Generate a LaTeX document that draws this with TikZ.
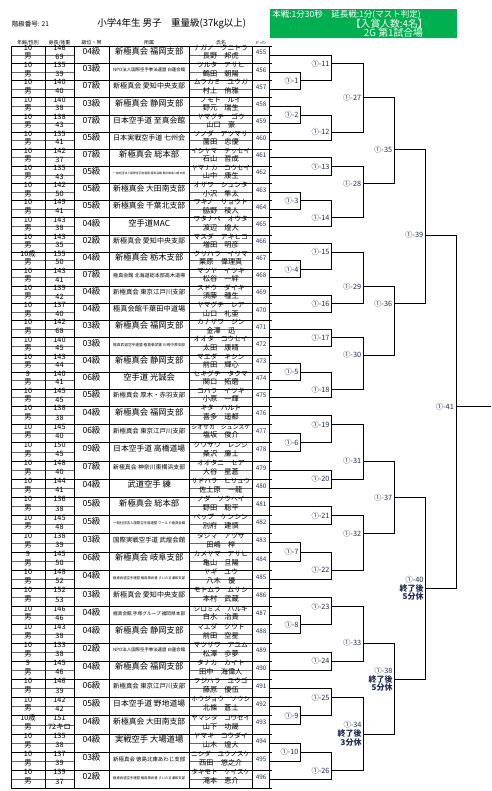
\documentclass[tikz,border=0pt]{standalone}
\usepackage{fontspec}
\setmainfont{Noto Sans CJK JP}
\definecolor{hdrgreen}{HTML}{00B050}
\definecolor{inkblue}{HTML}{1E2A50}
\newcommand\fs[1]{\fontsize{#1}{#1}\selectfont}
\newsavebox\fitsave
% #1 max width (pt), #2 base size, #3 text
\newcommand\fitto[3]{\sbox\fitsave{\fs{#2}#3}%
  \ifdim\wd\fitsave>#1pt\relax
    \pgfmathsetmacro\fitsz{#2*#1/\the\wd\fitsave}\fs{\fitsz}#3%
  \else\usebox\fitsave\fi}

\begin{document}
\begin{tikzpicture}[x=1pt,y=-1pt]
\tikzset{
  rule/.style={line width=0.9pt},
  subrule/.style={line width=0.7pt, black!60},
  txt/.style={inner sep=0pt, outer sep=0pt},
  mlabel/.style={inner sep=0pt, anchor=east, text=inkblue, font=\fs{7.3}},
}
\useasboundingbox (0,0) rectangle (491,791);

% header
\node[txt, anchor=west, font=\fs{6.5}] (lvlno) at (12,24) {階級番号: 21};
\node[txt, font=\fs{9.5}] (title) at (171.7,24) {小学4年生 男子　重量級(37kg以上)};
\fill[hdrgreen] (270,9) rectangle (457,37.7);
\node[txt, anchor=west, text=white, font=\fs{8.5}] (rules) at (272.3,14.5) {本戦:1分30秒　延長戦:1分(マスト判定)};
\node[txt, text=white, font=\fs{9.8}] (prize) at (389.3,23.5) {【入賞人数:4名】};
\node[txt, text=white, font=\fs{9.8}] (mat) at (393.5,33) {2G 第1試合場};

% column heads
\node[txt, font=\fs{5}] (h1) at (28,42.5) {年齢/性別};
\node[txt, font=\fs{5}] (h2) at (59.5,42.5) {身長/体重};
\node[txt, font=\fs{5}] (h3) at (91.5,42.5) {級位・帯};
\node[txt, font=\fs{5}] (h4) at (149,42.5) {所属};
\node[txt, font=\fs{5}] (h5) at (221,42.5) {氏名};
\node[txt, font=\fs{4}] (h6) at (261,42.5) {ｾﾞｯｹﾝ};

% entries
\foreach \num/\age/\ht/\wt/\grd/\aff/\kana/\kanji [count=\i from 0] in {
455/10/146/69/04級/新極真会 福岡支部/ナガノ　クニトラ/長野　邦虎,
456/10/135/39/03級/NPO法人国際空手拳法連盟 白蓮会館/ツルタ　アサヒ/鶴田　朝陽,
457/10/140/40/07級/新極真会 愛知中央支部/ムラカミ　ユウガ/村上　侑雅,
458/10/140/38/03級/新極真会 静岡支部/ノモト　ルイ/野元　瑞生,
459/10/138/43/07級/日本空手道 至真会館/ヤマグチ　ゴウ/山口　豪,
460/10/135/41/05級/日本実戦空手道 七州会/ソノダ　アツマサ/薗田　忠優,
461/10/142/37/07級/新極真会 総本部/イシヤマ　テッセイ/石山　哲成,
462/10/135/43/05級/一般社団法人国際空手道連盟 極真会館 東京城南川崎支部/ヤマナカ　コウセイ/山中　康生,
463/10/142/50/05級/新極真会 大田南支部/オザワ　シュンタ/小沢　隼太,
464/10/149/41/05級/新極真会 千葉北支部/ワキノ　リョウト/脇野　稜人,
465/10/143/38/04級/空手道MAC/ワタナベ　オウタ/渡辺　煌大,
466/10/143/35/02級/新極真会 愛知中央支部/マスダ　アキヒコ/増田　明彦,
467/10歳/155/50/04級/新極真会 栃木支部/クリハラ　イリマ/栗原　偉理真,
468/10/143/41/07級/極真会館 北海道総本部高木道場/マツヤ　イツキ/松谷　一絆,
469/10/139/42/04級/新極真会 東京江戸川支部/スドウ　ダイキ/須藤　種生,
470/10/137/40/04級/極真会館千葉田中道場/ヤマグチ　レア/山口　礼亜,
471/10/142/68/03級/新極真会 福岡支部/カナザワ　ジン/金澤　迅,
472/10/140/45/03級/極真武道空手連盟 極真拳武會 川崎中原支部/オオタ　コウセイ/太田　康晴,
473/10/143/44/04級/新極真会 静岡支部/マエダ　キシン/前田　輝心,
474/9/140/41/06級/空手道 光誠会/セキグチ　タクマ/関口　拓磨,
475/10/145/45/05級/新極真会 厚木・赤羽支部/コハラ　イツキ/小原　一輝,
476/10/138/38/04級/新極真会 福岡支部/キタ　ハルト/喜多　遥都,
477/10/145/40/06級/新極真会 東京江戸川支部/シオサカ　シュンスケ/塩坂　俊介,
478/10/150/45/09級/日本空手道 高橋道場/クワサワ　レンジ/桑沢　廉士,
479/10/148/40/07級/新極真会 神奈川東横浜支部/オオタニ　セア/大谷　星蒼,
480/10/144/41/04級/武道空手 練/サドハラ　ヒリュウ/佐土原　一龍,
481/10/136/38/05級/新極真会 総本部/ノダ　ソウヘイ/野田　聡平,
482/10/145/48/05級/一般社団法人国際空手道連盟 ワールド極真会館/ベップ　ケンシン/別府　建慎,
483/10/138/39/03級/国際実戦空手道 武煌会館/タジマ　アヅサ/田嶋　梓,
484/9/145/50/06級/新極真会 岐阜支部/カメヤマ　アサヒ/亀山　旦陽,
485/10/148/52/04級/極真武道空手連盟 極真拳武會 さいたま浦和支部/ヤギ　ユウ/八木　優,
486/10/152/53/03級/新極真会 愛知中央支部/モトムラ　ムサシ/本村　武蔵,
487/10/146/46/04級/極真会館 手塚グループ 福岡県本部/シロミズ　ハルキ/白水　治貴,
488/10/143/38/04級/新極真会 静岡支部/マエダ　クウト/前田　空星,
489/10/133/38/02級/NPO法人国際空手拳法連盟 白蓮会館/マツザワ　アユム/松澤　歩夢,
490/9/145/46/04級/新極真会 福岡支部/タナカ　カイト/田中　海偉人,
491/10/146/39/06級/新極真会 東京江戸川支部/フジハラ　ユウゴ/藤原　優伍,
492/10/142/42/05級/日本空手道 野地道場/ホウジョウ　ソウシ/北條　蒼士,
493/10歳/151/72キロ/04級/新極真会 大田南支部/ヤマシタ　コウセイ/山下　功晟,
494/10/135/38/04級/実戦空手 大場道場/ヤマキ　コウダイ/山木　煌大,
495/10/137/39/03級/新極真会 徳島北東あわじ支部/ニシダ　ユウノスケ/西田　悠之介,
496/10/139/37/02級/極真武道空手連盟 極真拳武會 さいたま浦和支部/タキモト　ケイスケ/滝本　恵介}{
  \pgfmathsetmacro\etop{\i<21 ? 46.4+17.143*\i : 406.4+18.2*(\i-21)}
  \pgfmathsetmacro\eh{\i<21 ? 17.143 : 18.2}
  \pgfmathsetmacro\yu{\etop+\eh/4}
  \pgfmathsetmacro\ym{\etop+\eh/2}
  \pgfmathsetmacro\yl{\etop+3*\eh/4}
  \coordinate (b\i) at (0,\etop);
  \coordinate (e\num) at (269.5,\ym);
  \draw[rule] (11,\etop) -- (272,\etop);
  \draw[subrule] (11,\ym) -- (74,\ym) (189.3,\ym) -- (252.3,\ym);
  \node[txt, font=\fs{7.3}] (age\num) at (28,\yu) {\age};
  \node[txt, font=\fs{7.3}] (sex\num) at (28,\yl) {男};
  \node[txt, font=\fs{7.3}] (ht\num) at (59.5,\yu) {\ht};
  \node[txt, font=\fs{7.3}] (wt\num) at (59.5,\yl) {\wt};
  \node[txt, font=\fs{8.5}] (grd\num) at (91.5,\ym) {\grd};
  \node[txt] (aff\num) at (149.2,\ym) {\fitto{72}{8.3}{\aff}};
  \node[txt] (kana\num) at (220.8,\yu) {\fitto{59}{6.8}{\kana}};
  \node[txt] (kanji\num) at (220.8,\yl) {\fitto{59}{7.2}{\kanji}};
  \node[txt, text=inkblue, font=\fs{6.3}] (zk\num) at (261,\ym) {\num};
}
\coordinate (b42) at (0,788.6);
\draw[rule] (11,788.6) -- (272,788.6);
\foreach \x in {11,45,74,109,189.3,252.3,269.5}
  \draw[rule] (\x,46.4) -- (\x,788.6);

% bracket
\coordinate (r1) at (300.7,0);
\coordinate (r2) at (331.7,0);
\coordinate (r3) at (363.3,0);
\coordinate (r4) at (394.3,0);
\coordinate (r5) at (425.3,0);
\coordinate (r6) at (456,0);
\foreach \m/\a/\b/\r/\k in {
  1/e456/e457/1/2, 2/e458/e459/1/4, 3/e463/e464/1/9, 4/e467/e468/1/13,
  5/e473/e474/1/19, 6/e477/e478/1/23, 7/e483/e484/1/29, 8/e487/e488/1/33,
  9/e492/e493/1/38, 10/e494/e495/1/40,
  11/e455/m1/2/1, 12/m2/e460/2/5, 13/e461/e462/2/7, 14/m3/e465/2/10,
  15/e466/m4/2/12, 16/e469/e470/2/15, 17/e471/e472/2/17, 18/m5/e475/2/20,
  19/e476/m6/2/22, 20/e479/e480/2/25, 21/e481/e482/2/27, 22/m7/e485/2/30,
  23/e486/m8/2/32, 24/e489/e490/2/35, 25/e491/m9/2/37, 26/m10/e496/2/41,
  27/m11/m12/3/3, 28/m13/m14/3/8, 29/m15/m16/3/14, 30/m17/m18/3/18,
  31/m19/m20/3/24, 32/m21/m22/3/28, 33/m23/m24/3/34, 34/m25/m26/3/39,
  35/m27/m28/4/6, 36/m29/m30/4/15, 37/m31/m32/4/26, 38/m33/m34/4/36,
  39/m35/m36/5/11, 40/m37/m38/5/31, 41/m39/m40/6/21}{
  \coordinate (m\m) at (r\r |- b\k);
  \draw[rule] (\a) -| (m\m);
  \draw[rule] (\b) -| (m\m);
}
\coordinate (fin) at (491,0 |- b21);
\draw[rule] (m41) -- (fin);

% match numbers
\foreach \m in {1,...,33,35,36,37,39,41}
  \node[mlabel] (l\m) at ([xshift=-2pt]m\m) {①-\m};
\node[mlabel, align=right, font=\fontsize{8}{8.7}\selectfont\bfseries] (l34) at ([xshift=-1.6pt]m34)
  {{\mdseries\fs{7.3}①-34}\\終了後\\3分休};
\node[mlabel, align=right, font=\fontsize{8}{8.7}\selectfont\bfseries] (l38) at ([xshift=-1.6pt]m38)
  {{\mdseries\fs{7.3}①-38}\\終了後\\5分休};
\node[mlabel, align=right, font=\fontsize{8}{8.7}\selectfont\bfseries] (l40) at ([xshift=-1.6pt]m40)
  {{\mdseries\fs{7.3}①-40}\\終了後\\5分休};
\end{tikzpicture}
\end{document}
